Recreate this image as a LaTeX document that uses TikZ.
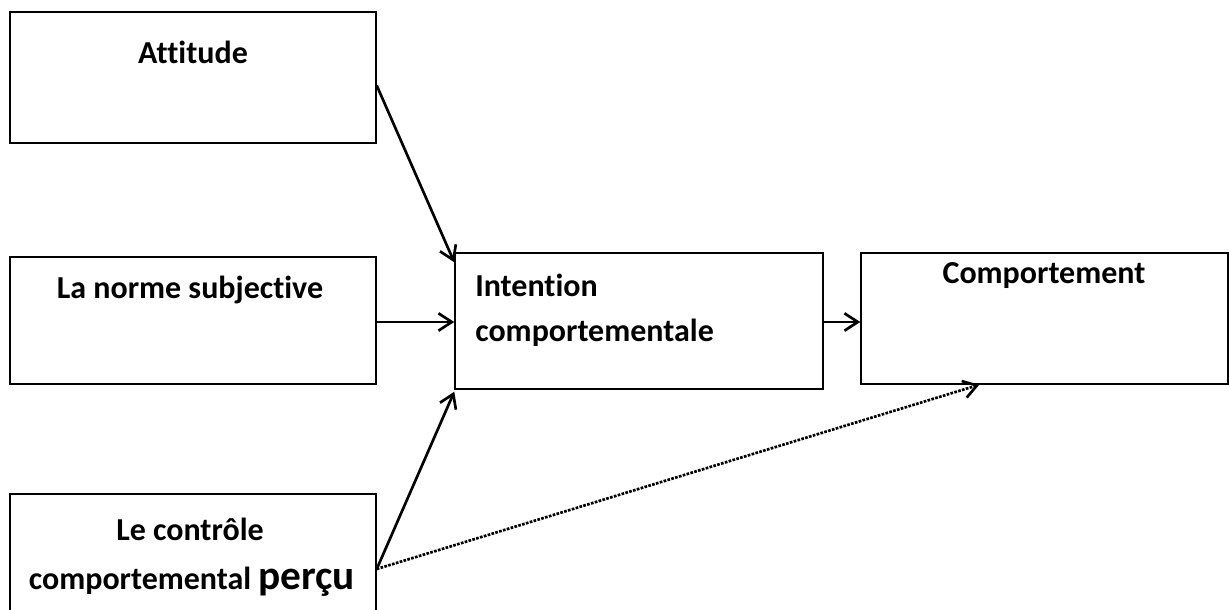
\documentclass[tikz,border=0pt]{standalone}
\usepackage{fontspec}
\setmainfont[Ligatures=NoCommon]{Carlito}
\usetikzlibrary{arrows.meta,calc}
\begin{document}
\begin{tikzpicture}[x=0.75pt,y=-0.75pt,
  box/.style={draw,line width=1.1pt,inner sep=0pt},
  lbl/.style={font=\bfseries\fontsize{24}{36}\selectfont,inner sep=0pt},
  link/.style={line width=2pt,-{Straight Barb[length=10pt,width=13pt,line width=2pt]}}]
\useasboundingbox (0,0) rectangle (1229,610);

% boxes
\node[box,minimum width=366*0.75pt,minimum height=131*0.75pt] (att) at (193,77.5) {};
\node[box,minimum width=366*0.75pt,minimum height=127*0.75pt] (norm) at (193,320.5) {};
\node[box,minimum width=366*0.75pt,minimum height=136*0.75pt] (ctrl) at (193,562) {};
\node[box,minimum width=368*0.75pt,minimum height=136*0.75pt] (int) at (639,321) {};
\node[box,minimum width=367*0.75pt,minimum height=131*0.75pt] (comp) at (1044.5,318.5) {};

% texts
\node[lbl] (attT) at (193,52) {Attitude};
\node[lbl] (normT) at (190,290) {La norme subjective};
\node[lbl] (ctrlA) at (190,529) {Le contrôle};
\node[lbl] (ctrlB) at (192,582) {comportemental {\fontsize{31}{36}\selectfont perçu}};
\node[lbl,anchor=west] (intA) at (475,285) {Intention};
\node[lbl,anchor=west] (intB) at (475,333) {comportementale};
\node[lbl] (compT) at (1044,276) {Comportement};

% links
\draw[link] ($(att.east)+(0,8)$) -- ($(int.north west)+(0,10)$);
\draw[link] ($(norm.east)+(0,1.5)$) -- ($(int.west)+(0,1)$);
\draw[link] ($(ctrl.east)+(0,7)$) -- ($(int.south west)+(0,2)$);
\draw[link] ($(int.east)+(0,1)$) -- ($(comp.west)+(0,3.5)$);
\draw[link,densely dotted] ($(ctrl.east)+(0,7)$) -- ($(comp.south west)+(119,0)$);
\end{tikzpicture}
\end{document}
